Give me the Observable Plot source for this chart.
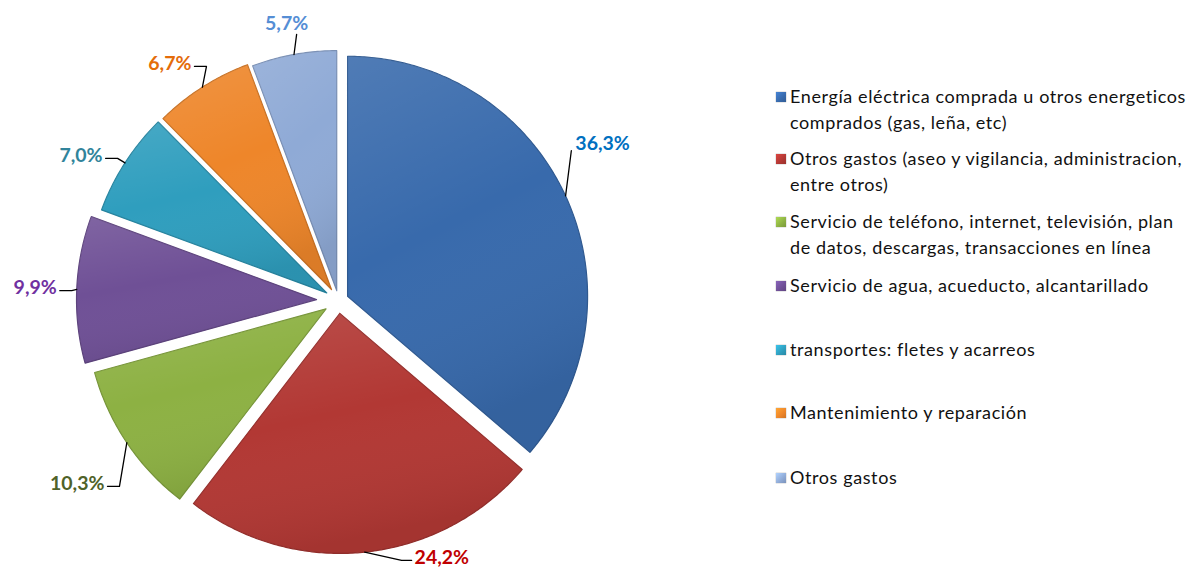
<!DOCTYPE html>
<html><head><meta charset="utf-8">
<script src="https://cdn.jsdelivr.net/npm/d3@7"></script>
<script src="https://cdn.jsdelivr.net/npm/@observablehq/plot@0.6"></script>
<style>
body{margin:0;background:#fff;}
#wrap{position:relative;width:1189px;height:569px;overflow:hidden;}
#legend{position:absolute;left:776px;top:0;font-family:Lato,"Open Sans",sans-serif;font-size:18px;letter-spacing:0.6px;color:#111;}
.item{position:absolute;left:0;display:flex;align-items:flex-start;white-space:nowrap;line-height:25.5px;}
.sw{width:10px;height:10px;margin-top:8px;margin-right:4px;box-shadow:0 0 1px rgba(0,0,0,.5);}
</style></head><body><div id="wrap"><div id="legend"></div></div>
<script>
// ---------- data ----------
const categories = [
  "Energía eléctrica comprada u otros energeticos comprados (gas, leña, etc)",
  "Otros gastos (aseo y vigilancia, administracion, entre otros)",
  "Servicio de teléfono, internet, televisión, plan de datos, descargas, transacciones en línea",
  "Servicio de agua, acueducto, alcantarillado",
  "transportes: fletes y acarreos",
  "Mantenimiento y reparación",
  "Otros gastos"
];
const values = [36.3, 24.2, 10.3, 9.9, 7.0, 6.7, 5.7];
const valueLabels = ["36,3%", "24,2%", "10,3%", "9,9%", "7,0%", "6,7%", "5,7%"];
const legendLines = [
  ["Energía eléctrica comprada u otros energeticos", "comprados (gas, leña, etc)"],
  ["Otros gastos (aseo y vigilancia, administracion,", "entre otros)"],
  ["Servicio de teléfono, internet, televisión, plan", "de datos, descargas, transacciones en línea"],
  ["Servicio de agua, acueducto, alcantarillado"],
  ["transportes: fletes y acarreos"],
  ["Mantenimiento y reparación"],
  ["Otros gastos"]
];

// ---------- style / layout ----------
const sliceColors = ["#386AAC", "#B23834", "#8DB143", "#6F5096", "#2F9EBE", "#EE862A", "#8FAAD6"];
const labelColors = ["#0070C0", "#C00000", "#4F6228", "#7030A0", "#31849B", "#E46C0A", "#558ED5"];
const W = 1189, H = 569, CX = 338, CY = 300, R = 240;
const explode = [10, 13, 15, 22, 14, 13, 10];   // per-slice pull-out, px
// label anchor placement (polar around pie centre, degrees clockwise from top, pixels)
const labelAngle  = [56.5, 163.5, 232, 272.6, 301.6, 328.2, 349.4];
const labelRadius = [284, 268, 297, 282, 277, 279, 282];
const labelAnchor = ["start", "start", "end", "end", "end", "end", "middle"];
const legendTop = [97, 159, 222, 286, 350, 413, 478];

// ---------- geometry ----------
const total = d3.sum(values);
let acc = 0;
const slices = values.map((v, i) => {
  const a0 = acc / total * 2 * Math.PI; acc += v;
  const a1 = acc / total * 2 * Math.PI;
  const mid = (a0 + a1) / 2;
  return {i, a0, a1, mid, ox: explode[i] * Math.sin(mid), oy: explode[i] * Math.cos(mid)};
});
const slicePts = [];
for (const s of slices) {
  slicePts.push({i: s.i, x: s.ox, y: s.oy});
  const n = Math.max(12, Math.ceil((s.a1 - s.a0) / 0.01));
  for (let k = 0; k <= n; k++) {
    const a = s.a0 + (s.a1 - s.a0) * k / n;
    slicePts.push({i: s.i, x: s.ox + R * Math.sin(a), y: s.oy + R * Math.cos(a)});
  }
  slicePts.push({i: s.i, x: s.ox, y: s.oy});
}
const labelData = slices.map(s => {
  const t = labelAngle[s.i] * Math.PI / 180;
  return {i: s.i, x: labelRadius[s.i] * Math.sin(t), y: labelRadius[s.i] * Math.cos(t),
          text: valueLabels[s.i], anchor: labelAnchor[s.i]};
});
const leaderPts = [];
for (const s of slices) {
  const L = labelData[s.i];
  const P = {x: s.ox + R * Math.sin(s.mid), y: s.oy + R * Math.cos(s.mid)};
  let pts;
  if (L.anchor === "end") {
    const E = {x: L.x + 3, y: L.y - 3};
    pts = [E, {x: E.x + 12, y: E.y}, P];
  } else if (L.anchor === "start" && P.y < 0) {
    const E = {x: L.x - 3, y: L.y - 3};
    pts = [E, {x: E.x - 10, y: E.y}, P];
  } else if (L.anchor === "start") {
    pts = [{x: L.x - 4, y: L.y - 7}, P];
  } else {
    pts = [{x: L.x + 10, y: L.y - 11}, P];
  }
  pts.forEach(p => leaderPts.push({i: s.i, x: p.x, y: p.y}));
}

const textOpts = {x: "x", y: "y", text: "text", fill: d => labelColors[d.i],
  fontFamily: "Lato, 'Open Sans', sans-serif", fontWeight: "bold", fontSize: 19.5};
const sliceOpts = {x: "x", y: "y", z: "i", curve: "linear", strokeLinejoin: "round"};

const chart = Plot.plot({
  width: W, height: H, margin: 0,
  x: {domain: [-CX, W - CX], range: [0, W], axis: null},
  y: {domain: [CY - H, CY], range: [H, 0], axis: null},
  color: {type: "identity"},
  marks: [
    Plot.line(slicePts, {...sliceOpts, fill: d => sliceColors[d.i],
      stroke: d => d3.color(sliceColors[d.i]).darker(0.5).formatHex(), strokeWidth: 1.2}),
    Plot.line(slicePts, {...sliceOpts, fill: "url(#shade)", stroke: "none"}),
    Plot.line(leaderPts, {x: "x", y: "y", z: "i", stroke: "#000", strokeWidth: 1.3, curve: "linear"}),
    Plot.text(labelData.filter(d => d.anchor === "start"), {...textOpts, textAnchor: "start"}),
    Plot.text(labelData.filter(d => d.anchor === "end"), {...textOpts, textAnchor: "end"}),
    Plot.text(labelData.filter(d => d.anchor === "middle"), {...textOpts, textAnchor: "middle"})
  ]
});
const defs = d3.select(chart).insert("defs", ":first-child");
const g = defs.append("linearGradient").attr("id", "shade").attr("x1", 0).attr("y1", 0).attr("x2", 0.3).attr("y2", 1);
g.append("stop").attr("offset", "0%").attr("stop-color", "#fff").attr("stop-opacity", 0.12);
g.append("stop").attr("offset", "50%").attr("stop-color", "#fff").attr("stop-opacity", 0);
g.append("stop").attr("offset", "100%").attr("stop-color", "#000").attr("stop-opacity", 0.08);

const wrap = document.getElementById("wrap");
wrap.insertBefore(chart, wrap.firstChild);

// legend
const legend = document.getElementById("legend");
legendLines.forEach((lines, i) => {
  const item = document.createElement("div");
  item.className = "item";
  item.style.top = (legendTop[i] - 12.75) + "px";
  const sw = document.createElement("div");
  sw.className = "sw";
  sw.style.background = `linear-gradient(135deg, ${d3.color(sliceColors[i]).brighter(0.6)}, ${sliceColors[i]} 60%, ${d3.color(sliceColors[i]).darker(0.4)})`;
  const txt = document.createElement("div");
  txt.innerHTML = lines.join("<br>");
  item.appendChild(sw); item.appendChild(txt);
  legend.appendChild(item);
});
</script></body></html>
